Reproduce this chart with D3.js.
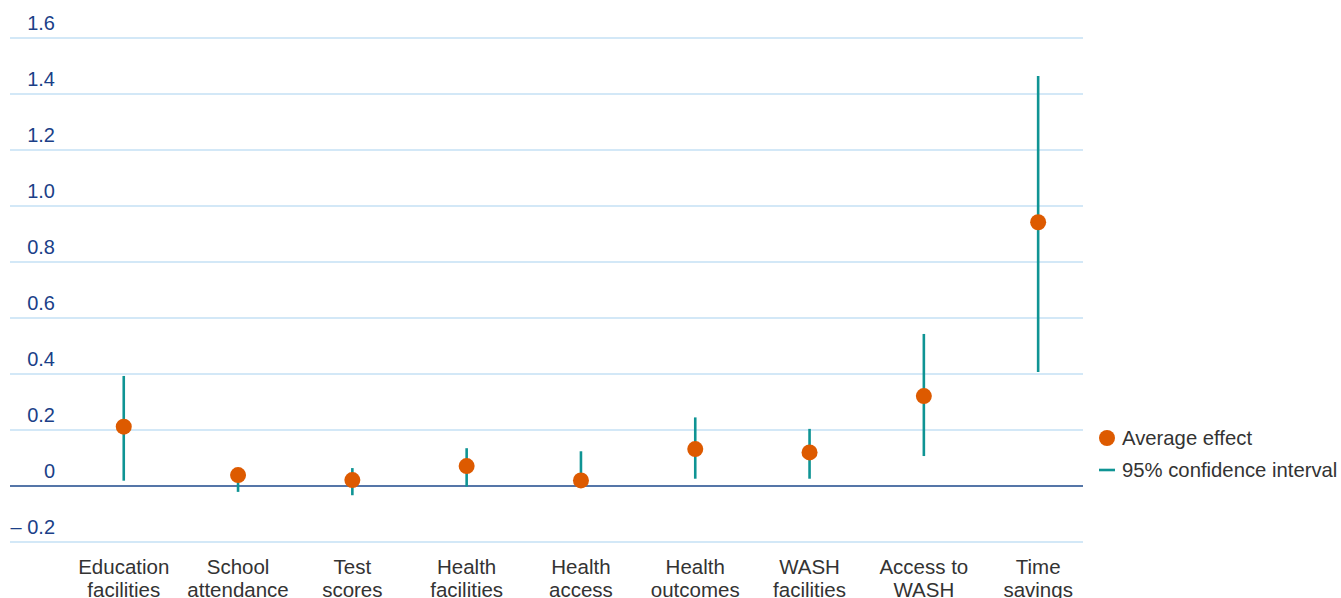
<!DOCTYPE html>
<html><head><meta charset="utf-8">
<script src="https://cdn.jsdelivr.net/npm/d3@7/dist/d3.min.js"></script>
<style>body{margin:0;background:#fff;} svg{display:block;font-family:"Liberation Sans",Arial,sans-serif;}</style>
</head><body>
<svg id="chart" width="1341" height="598"></svg>
<script>
const categories = [["Education","facilities"],["School","attendance"],["Test","scores"],["Health","facilities"],["Health","access"],["Health","outcomes"],["WASH","facilities"],["Access to","WASH"],["Time","savings"]];
const averageEffect = [0.212, 0.039, 0.021, 0.071, 0.020, 0.132, 0.120, 0.321, 0.942];
const ciLow = [0.019, -0.021, -0.033, -0.002, 0.0, 0.026, 0.026, 0.107, 0.407];
const ciHigh = [0.393, 0.06, 0.064, 0.135, 0.124, 0.245, 0.204, 0.543, 1.464];
const yTicks = [-0.2, 0, 0.2, 0.4, 0.6, 0.8, 1.0, 1.2, 1.4, 1.6];
const yTickLabels = ["– 0.2","0","0.2","0.4","0.6","0.8","1.0","1.2","1.4","1.6"];
const legendLabels = ["Average effect","95% confidence interval"];

const svg = d3.select("#chart");
const y = d3.scaleLinear().domain([-0.2, 1.6]).range([542, 38]);
const x = d3.scaleBand().domain(categories.map((c,i)=>i)).range([66.6, 1095.3]);
const orange = "#dd5a00", teal = "#0f9494";

// gridlines
svg.append("g").selectAll("line").data(yTicks.filter(d=>d!==0)).join("line")
  .attr("x1",10).attr("x2",1083).attr("y1",d=>y(d)).attr("y2",d=>y(d))
  .attr("stroke","#c5e1f4").attr("stroke-width",1.5);
// tick labels
svg.append("g").selectAll("text").data(yTicks).join("text")
  .attr("x",55).attr("y",d=>y(d)-8).attr("text-anchor","end")
  .attr("fill","#1b3f88").attr("font-size",20).text((d,i)=>yTickLabels[i]);
// zero line
svg.append("line").attr("x1",10).attr("x2",1083).attr("y1",y(0)).attr("y2",y(0))
  .attr("stroke","#5576a8").attr("stroke-width",2);

// CI lines
svg.append("g").selectAll("line").data(averageEffect).join("line")
  .attr("x1",(d,i)=>x(i)+x.bandwidth()/2).attr("x2",(d,i)=>x(i)+x.bandwidth()/2)
  .attr("y1",(d,i)=>y(ciHigh[i])).attr("y2",(d,i)=>y(ciLow[i]))
  .attr("stroke",teal).attr("stroke-width",2.6);
// points
svg.append("g").selectAll("circle").data(averageEffect).join("circle")
  .attr("cx",(d,i)=>x(i)+x.bandwidth()/2).attr("cy",d=>y(d)).attr("r",8)
  .attr("fill",orange);

// category labels
const cl = svg.append("g").selectAll("text").data(categories).join("text")
  .attr("text-anchor","middle").attr("fill","#333").attr("font-size",20.5)
  .attr("x",(d,i)=>x(i)+x.bandwidth()/2).attr("y",574);
cl.selectAll("tspan").data(d=>d).join("tspan")
  .attr("x",function(){return d3.select(this.parentNode).attr("x");})
  .attr("dy",(d,i)=>i===0?0:23).text(d=>d);

// legend
const lg = svg.append("g");
lg.append("circle").attr("cx",1107).attr("cy",438).attr("r",8).attr("fill",orange);
lg.append("line").attr("x1",1099).attr("x2",1115).attr("y1",470).attr("y2",470).attr("stroke",teal).attr("stroke-width",2.6);
lg.selectAll("text").data(legendLabels).join("text")
  .attr("x",1122).attr("y",(d,i)=>445+i*32).attr("fill","#333").attr("font-size",20.3).text(d=>d);
</script>
</body></html>
